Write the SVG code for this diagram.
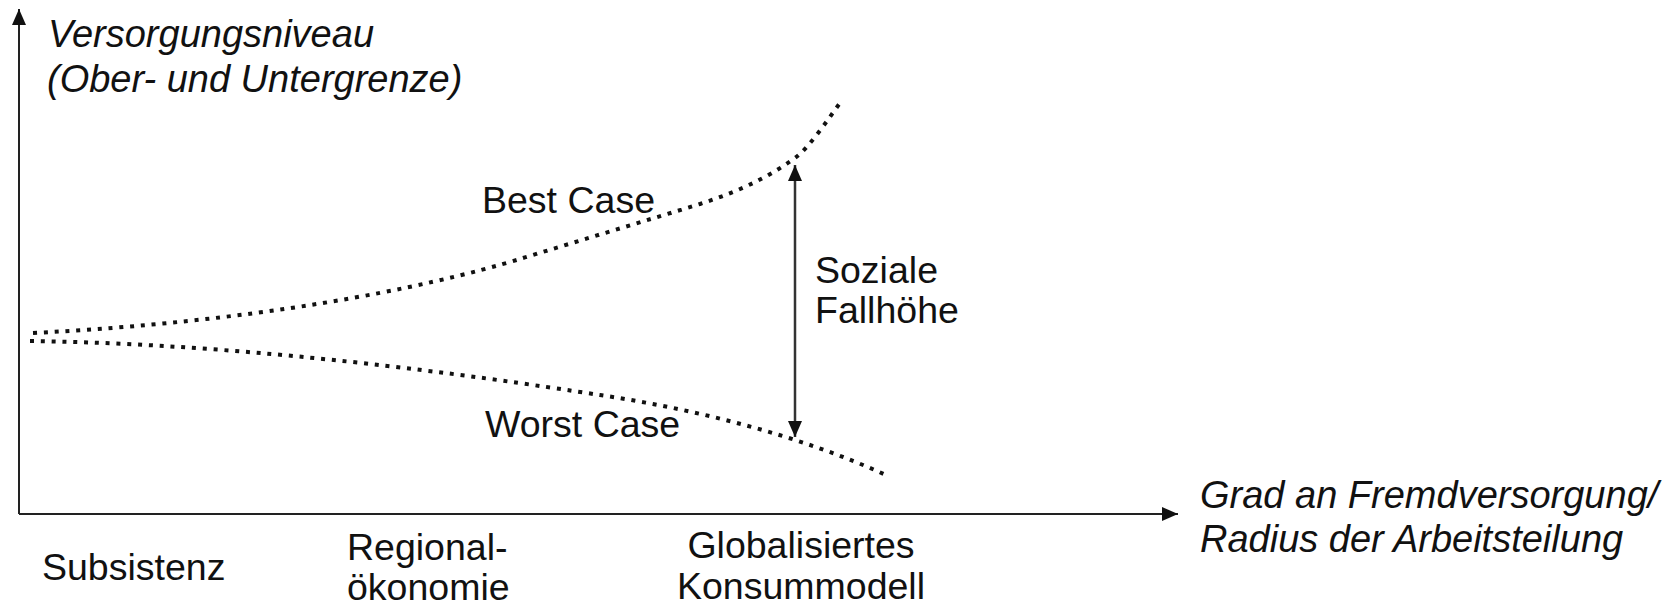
<svg xmlns="http://www.w3.org/2000/svg" width="1674" height="606" viewBox="0 0 1674 606">
  <style>
    .lbl { font-family: "Liberation Sans", Arial, sans-serif; font-size: 37.5px; fill: #111; }
    .it { font-style: italic; font-size: 38px; }
    .axis { stroke: #222; stroke-width: 2; fill: none; }
    .curve { stroke: #111; stroke-width: 4; fill: none; stroke-dasharray: 4 6.8; }
  </style>
  <defs>
    <marker id="ah" viewBox="0 0 16 16" refX="16" refY="8" markerWidth="16" markerHeight="16" markerUnits="userSpaceOnUse" orient="auto-start-reverse">
      <path d="M0,1 L16,8 L0,15 z" fill="#111"/>
    </marker>
  </defs>
  <rect width="1674" height="606" fill="#fff"/>

  <g id="connectors">
    <path id="y-axis" class="axis" d="M19,514 L19,9" marker-end="url(#ah)"/>
    <path id="x-axis" class="axis" d="M19,514 L1178,514" marker-end="url(#ah)"/>
    <path id="best-case-curve" class="curve" d="M33,333 C250,322 420,290 523,258 C582,240 641,222 700,204 C732,193.5 763,181 795,158 C810,147 828,119 840,103"/>
    <path id="worst-case-curve" class="curve" d="M30,341 C250,344 470,375 600,395 C700,410 800,436 886,475"/>
    <path id="fallhoehe-arrow" d="M795,165 L795,437" stroke="#333" stroke-width="2.5" fill="none" marker-start="url(#ah)" marker-end="url(#ah)"/>
  </g>

  <g id="y-label">
    <text class="lbl it" x="48" y="47">Versorgungsniveau</text>
    <text class="lbl it" x="47" y="92">(Ober- und Untergrenze)</text>
  </g>
  <g id="x-label">
    <text class="lbl it" x="1200" y="508">Grad an Fremdversorgung/</text>
    <text class="lbl it" x="1200" y="552">Radius der Arbeitsteilung</text>
  </g>
  <g id="best-case">
    <text class="lbl" x="482" y="213">Best Case</text>
  </g>
  <g id="worst-case">
    <text class="lbl" x="485" y="437">Worst Case</text>
  </g>
  <g id="soziale-fallhoehe">
    <text class="lbl" x="815" y="283">Soziale</text>
    <text class="lbl" x="815" y="323">Fallhöhe</text>
  </g>
  <g id="subsistenz">
    <text class="lbl" x="42" y="580">Subsistenz</text>
  </g>
  <g id="regionaloekonomie">
    <text class="lbl" x="347" y="560">Regional-</text>
    <text class="lbl" x="347" y="600">ökonomie</text>
  </g>
  <g id="globalisiertes-konsummodell">
    <text class="lbl" x="801" y="558" text-anchor="middle">Globalisiertes</text>
    <text class="lbl" x="801" y="599" text-anchor="middle">Konsummodell</text>
  </g>
</svg>
